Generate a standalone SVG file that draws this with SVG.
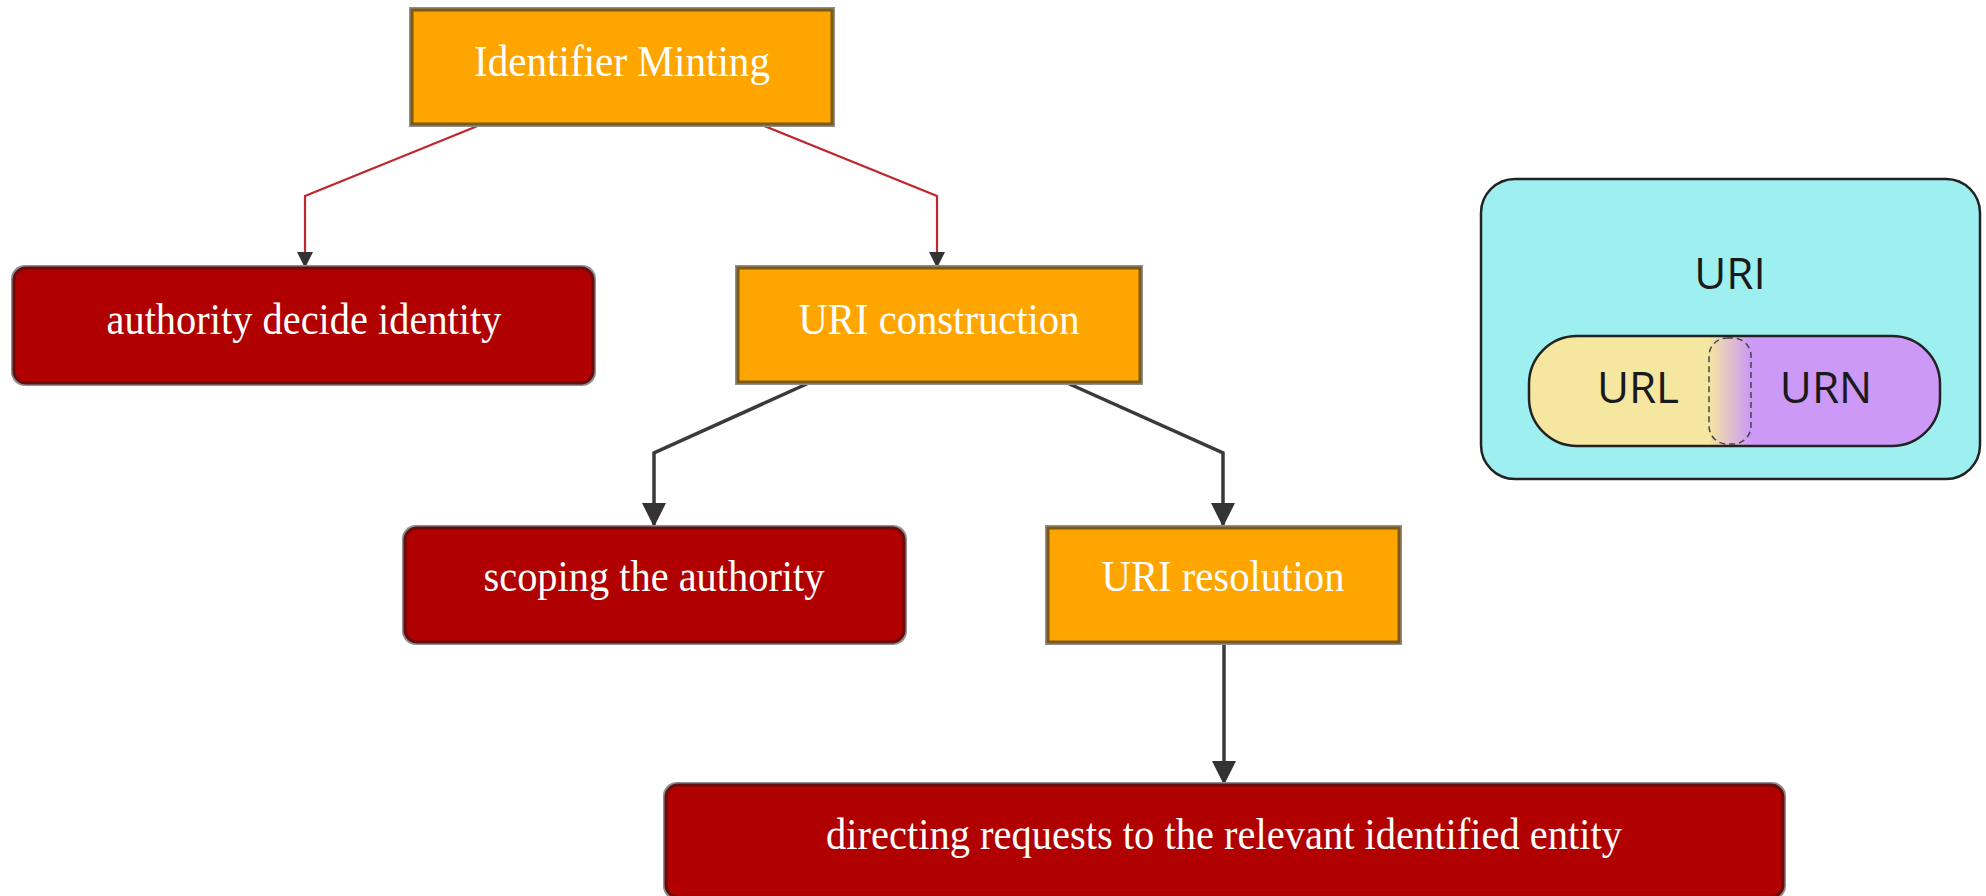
<svg xmlns="http://www.w3.org/2000/svg" width="1986" height="896" viewBox="0 0 1986 896">
<style>
.halo{fill:#8f8f8f}
.orange{fill:#ffa500;stroke:#7d5a14;stroke-width:3}
.red{fill:#b10000;stroke:#6a0c0c;stroke-width:3}
.lbl{font-family:"Liberation Serif","Times New Roman",serif;font-size:44px;fill:#ffffff;text-anchor:middle}
.redline{fill:none;stroke:#c0262d;stroke-width:2.2}
.darkline{fill:none;stroke:#3a3a3a;stroke-width:3.5}
.uri{font-family:"Open Sans","Liberation Sans",sans-serif;font-size:44px;fill:#1a1a1a;text-anchor:middle}
</style>
<defs>
<marker id="arrS" viewBox="0 0 16 16" markerWidth="16" markerHeight="16" refX="16" refY="8" orient="auto" markerUnits="userSpaceOnUse">
<path d="M0,0 L16,8 L0,16 Z" fill="#333333"/>
</marker>
<marker id="arrL" viewBox="0 0 24 24" markerWidth="24" markerHeight="24" refX="24" refY="12" orient="auto" markerUnits="userSpaceOnUse">
<path d="M0,0 L24,12 L0,24 Z" fill="#333333"/>
</marker>
<linearGradient id="mix" x1="1709" y1="0" x2="1751" y2="0" gradientUnits="userSpaceOnUse">
<stop offset="0" stop-color="#f5e6a0"/>
<stop offset="1" stop-color="#cc99f7"/>
</linearGradient>
<clipPath id="pillClip"><rect x="1529" y="336" width="411" height="110" rx="48"/></clipPath>
</defs>

<g id="connectors">
<path class="redline" d="M480,125 L305,196 L305,268" marker-end="url(#arrS)"/>
<path class="redline" d="M762,125 L937,196 L937,268" marker-end="url(#arrS)"/>
<path class="darkline" d="M811,382 L654,453 L654,527" marker-end="url(#arrL)"/>
<path class="darkline" d="M1065,382 L1223,453 L1223,527" marker-end="url(#arrL)"/>
<path class="darkline" d="M1224,642 L1224,785" marker-end="url(#arrL)"/>
</g>

<g id="node-identifier-minting">
<rect class="halo" x="409" y="7" width="426" height="120"/>
<rect class="orange" x="412" y="10" width="420" height="114"/>
<text class="lbl" x="622" y="76" textLength="296" lengthAdjust="spacingAndGlyphs">Identifier Minting</text>
</g>

<g id="node-authority-decide-identity">
<rect class="halo" x="11" y="265" width="585" height="121" rx="14"/>
<rect class="red" x="14" y="268" width="579" height="115" rx="12"/>
<text class="lbl" x="304" y="334" textLength="395" lengthAdjust="spacingAndGlyphs">authority decide identity</text>
</g>

<g id="node-uri-construction">
<rect class="halo" x="735" y="265" width="408" height="120"/>
<rect class="orange" x="738" y="268" width="402" height="114"/>
<text class="lbl" x="939" y="334" textLength="281" lengthAdjust="spacingAndGlyphs">URI construction</text>
</g>

<g id="node-scoping-the-authority">
<rect class="halo" x="402" y="525" width="505" height="120" rx="14"/>
<rect class="red" x="405" y="528" width="499" height="114" rx="12"/>
<text class="lbl" x="654" y="591" textLength="341" lengthAdjust="spacingAndGlyphs">scoping the authority</text>
</g>

<g id="node-uri-resolution">
<rect class="halo" x="1045" y="525" width="357" height="120"/>
<rect class="orange" x="1048" y="528" width="351" height="114"/>
<text class="lbl" x="1223" y="591" textLength="243" lengthAdjust="spacingAndGlyphs">URI resolution</text>
</g>

<g id="node-directing-requests">
<rect class="halo" x="663" y="782" width="1123" height="118" rx="14"/>
<rect class="red" x="666" y="785" width="1117" height="112" rx="12"/>
<text class="lbl" x="1224" y="849" textLength="796" lengthAdjust="spacingAndGlyphs">directing requests to the relevant identified entity</text>
</g>

<g id="uri-venn">
<rect x="1481" y="179" width="499" height="300" rx="34" fill="#9ef0f0" stroke="#222222" stroke-width="2.5"/>
<text class="uri" x="1730" y="289">URI</text>
<g clip-path="url(#pillClip)">
<rect x="1529" y="336" width="200" height="110" fill="#f5e6a0"/>
<rect x="1729" y="336" width="211" height="110" fill="#cc99f7"/>
<rect x="1709" y="336" width="42" height="110" fill="url(#mix)"/>
</g>
<rect x="1709" y="338" width="42" height="106" rx="18" fill="none" stroke="#444444" stroke-width="1.5" stroke-dasharray="6,4"/>
<rect x="1529" y="336" width="411" height="110" rx="48" fill="none" stroke="#222222" stroke-width="2.5"/>
<text class="uri" x="1638" y="403">URL</text>
<text class="uri" x="1826" y="403">URN</text>
</g>
</svg>
